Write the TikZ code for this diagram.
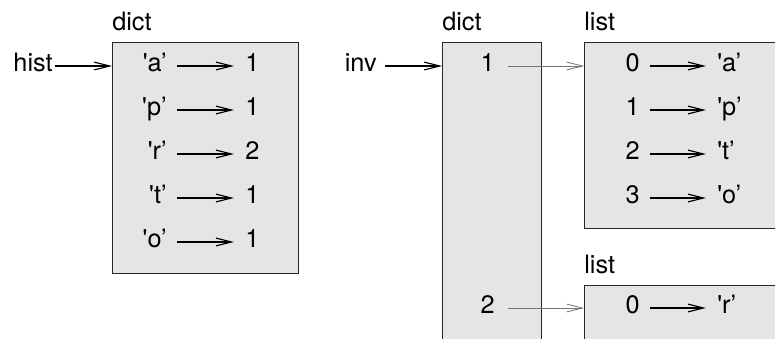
\documentclass[tikz,border=0pt]{standalone}
\usepackage{fontspec}
\setmainfont{TeX Gyre Heros}
\usetikzlibrary{arrows.meta}

\begin{document}
\begin{tikzpicture}[
    font=\fontsize{18}{20}\selectfont,
    >={Straight Barb[length=11pt,width=5.5pt]},
    frame/.style={draw=black!85, line width=1pt, fill=gray!20, rectangle, inner sep=0pt},
    cell/.style={inner sep=0pt, text height=0.72em, text depth=0pt},
    ptr/.style={->, line width=0.8pt, shorten <=0.25cm, shorten >=0.28cm},
    ref/.style={->, black!55, line width=0.6pt, shorten <=0.33cm}
  ]
    \useasboundingbox (0,0) rectangle (19.375,8.45);
    \clip (0,0) rectangle (19.375,8.45);

    % hist dict
    \node[frame, anchor=north west, minimum width=4.65cm, minimum height=5.77cm] (hbox) at (2.8,7.4) {};
    \node[anchor=base west, inner sep=0pt] (hlabel) at ([yshift=0.3cm]hbox.north west) {dict};
    \node[cell, anchor=east] (hist) at (1.325,6.8) {hist};
    \draw[->, line width=0.8pt, shorten <=0.05cm] (hist.east) -- (hist.east -| hbox.west);
    \foreach \k/\v [count=\i from 0] in {a/1,p/1,r/2,t/1,o/1} {
        \node[cell, anchor=east] (hk\i) at (4.175,6.8-1.1*\i) {\textquotesingle\k'};
        \node[cell, anchor=west] (hv\i) at (6.125,6.8-1.1*\i) {\v};
        \draw[ptr] (hk\i.east) -- (hv\i.west);
    }

    % inv dict
    \node[frame, anchor=north west, minimum width=2.47cm, minimum height=7.7cm] (ibox) at (11.05,7.4) {};
    \node[anchor=base west, inner sep=0pt] (ilabel) at ([yshift=0.3cm]ibox.north west) {dict};
    \node[cell, anchor=east] (inv) at (9.425,6.8) {inv};
    \draw[->, line width=0.8pt, shorten <=0.2cm] (inv.east) -- (inv.east -| ibox.west);
    \node[cell, anchor=east] (ione) at (12.375,6.8) {1};
    \node[cell, anchor=east] (itwo) at (12.375,0.75) {2};

    % lists
    \node[frame, anchor=north west, minimum width=5.2cm, minimum height=4.65cm] (lbox) at (14.6,7.4) {};
    \node[anchor=base west, inner sep=0pt] (llabel) at ([yshift=0.3cm]lbox.north west) {list};
    \foreach \v [count=\i from 0] in {a,p,t,o} {
        \node[cell, anchor=east] (li\i) at (16.0,6.8-1.1*\i) {\i};
        \node[cell, anchor=west] (lv\i) at (17.925,6.8-1.1*\i) {\textquotesingle\v'};
        \draw[ptr] (li\i.east) -- (lv\i.west);
    }
    \node[frame, anchor=north west, minimum width=5.2cm, minimum height=1.625cm] (rbox) at (14.6,1.325) {};
    \node[anchor=base west, inner sep=0pt] (rlabel) at ([yshift=0.3cm]rbox.north west) {list};
    \node[cell, anchor=east] (ri0) at (16.0,0.75) {0};
    \node[cell, anchor=west] (rv0) at (17.925,0.75) {\textquotesingle r'};
    \draw[ptr] (ri0.east) -- (rv0.west);

    % references
    \draw[ref] (ione.east) -- (ione.east -| lbox.west);
    \draw[ref] (itwo.east) -- (itwo.east -| rbox.west);
\end{tikzpicture}
\end{document}
